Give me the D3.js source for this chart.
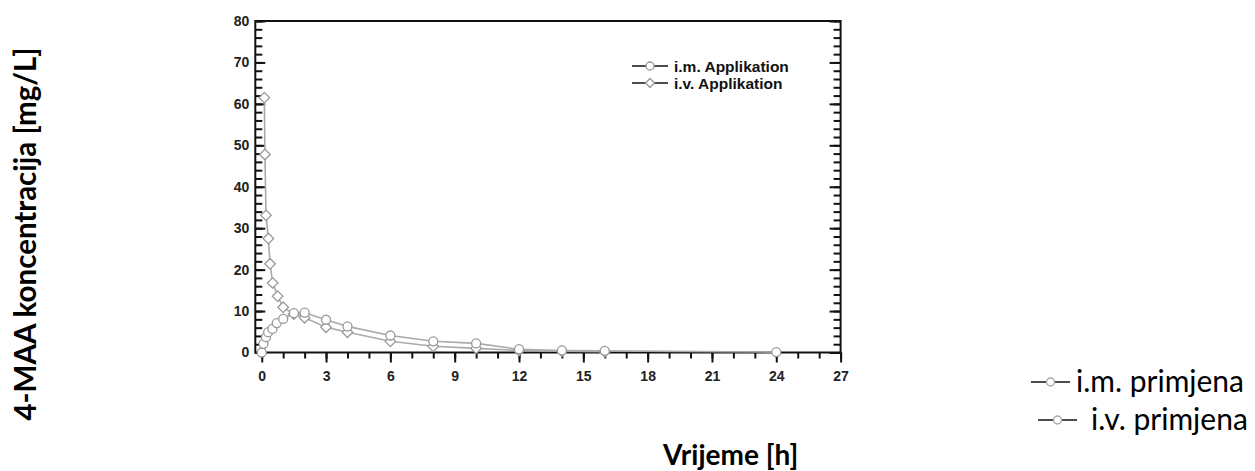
<!DOCTYPE html>
<html>
<head>
<meta charset="utf-8">
<script src="https://cdn.jsdelivr.net/npm/d3@7"></script>
<style>
  body { margin: 0; background: #fff; }
  svg { display: block; }
</style>
</head>
<body>
<svg id="chart" width="1255" height="471"></svg>
<script>
// values
var imTime = [0, 0.08, 0.2, 0.3, 0.5, 0.7, 1, 1.5, 2, 3, 4, 6, 8, 10, 12, 14, 16, 24];
var imConc = [0, 2.1, 3.7, 4.9, 5.7, 7.1, 8.1, 9.5, 9.6, 7.9, 6.3, 4.1, 2.7, 2.2, 0.8, 0.5, 0.4, 0.1];
var ivTime = [0.12, 0.15, 0.2, 0.31, 0.39, 0.51, 0.74, 1, 1.5, 2, 3, 4, 6, 8, 10, 12, 14, 16];
var ivConc = [61.5, 47.8, 33.1, 27.5, 21.4, 16.8, 13.6, 10.9, 9.3, 8.4, 6.1, 4.9, 2.7, 1.5, 1.0, 0.5, 0.3, 0.2];
var xTicks = [0, 3, 6, 9, 12, 15, 18, 21, 24, 27];
var yTicks = [0, 10, 20, 30, 40, 50, 60, 70, 80];
var innerLegend = ["i.m. Applikation", "i.v. Applikation"];
var outerLegend = ["i.m. primjena", "i.v. primjena"];

var svg = d3.select("#chart");

var x = d3.scaleLinear().domain([-0.3, 27]).range([255.3, 840.6]);
var y = d3.scaleLinear().domain([0, 80]).range([352.5, 21]);

var tickFont = "'Liberation Sans', Arial, sans-serif";
var wordFont = "Lato, 'Open Sans', sans-serif";

// minor ticks first
svg.append("g")
    .attr("transform", "translate(0," + y(0) + ")")
    .call(d3.axisBottom(x).tickValues(d3.range(0, 28, 1)).tickSize(6).tickFormat(""))
    .call(function (g) { g.select(".domain").remove(); });
svg.append("g")
    .attr("transform", "translate(" + x(-0.3) + ",0)")
    .call(d3.axisLeft(y).tickValues(d3.range(0, 81, 2)).tickSize(-7).tickFormat(""))
    .call(function (g) { g.select(".domain").remove(); });
svg.append("g")
    .attr("transform", "translate(" + x(27) + ",0)")
    .call(d3.axisLeft(y).tickValues(d3.range(0, 81, 2)).tickSize(7).tickFormat(""))
    .call(function (g) { g.select(".domain").remove(); });

// major ticks + labels
var xAxis = svg.append("g")
    .attr("transform", "translate(0," + y(0) + ")")
    .call(d3.axisBottom(x).tickValues(xTicks).tickSize(10).tickPadding(9));
var yAxis = svg.append("g")
    .attr("transform", "translate(" + x(-0.3) + ",0)")
    .call(d3.axisLeft(y).tickValues(yTicks).tickSize(-10).tickPadding(6));
svg.append("g")
    .attr("transform", "translate(" + x(27) + ",0)")
    .call(d3.axisLeft(y).tickValues(yTicks).tickSize(11).tickFormat(""))
    .call(function (g) { g.select(".domain").remove(); });

[xAxis, yAxis].forEach(function (g) {
    g.select(".domain").remove();
    g.selectAll("text")
        .attr("font-family", tickFont)
        .attr("font-size", "14px")
        .attr("font-weight", "bold")
        .attr("fill", "#222");
});
svg.selectAll(".tick line").attr("stroke", "#111").attr("stroke-width", 2);

// frame
svg.append("rect")
    .attr("x", x(-0.3)).attr("y", y(80))
    .attr("width", x(27) - x(-0.3)).attr("height", y(0) - y(80))
    .attr("fill", "none").attr("stroke", "#111").attr("stroke-width", 2);

var line = d3.line().x(function (d) { return x(d[0]); }).y(function (d) { return y(d[1]); });
var imData = d3.zip(imTime, imConc);
var ivData = d3.zip(ivTime, ivConc);

var plot = svg.append("g");
plot.append("path").datum(ivData).attr("d", line)
    .attr("fill", "none").attr("stroke", "#aaa").attr("stroke-width", 1.6);
plot.append("path").datum(imData).attr("d", line)
    .attr("fill", "none").attr("stroke", "#aaa").attr("stroke-width", 1.6);

// diamond = square turned 45 degrees
var diamond = d3.symbol().type(d3.symbolSquare).size(56);
plot.selectAll(".iv").data(ivData).enter().append("path")
    .attr("class", "iv")
    .attr("transform", function (d) { return "translate(" + x(d[0]) + "," + y(d[1]) + ") rotate(45)"; })
    .attr("d", diamond)
    .attr("fill", "#fff").attr("stroke", "#999").attr("stroke-width", 1.3);
plot.selectAll(".im").data(imData).enter().append("circle")
    .attr("class", "im")
    .attr("cx", function (d) { return x(d[0]); })
    .attr("cy", function (d) { return y(d[1]); })
    .attr("r", 4.5)
    .attr("fill", "#fff").attr("stroke", "#999").attr("stroke-width", 1.3);

// legend inside the plot
var leg = svg.append("g");
innerLegend.forEach(function (label, i) {
    var ly = 66 + i * 17;
    leg.append("line").attr("x1", 632).attr("x2", 668).attr("y1", ly).attr("y2", ly)
        .attr("stroke", "#111").attr("stroke-width", 1.5);
    if (i === 0) {
        leg.append("circle").attr("cx", 650).attr("cy", ly).attr("r", 4)
            .attr("fill", "#fff").attr("stroke", "#999").attr("stroke-width", 1.3);
    } else {
        leg.append("path").attr("transform", "translate(650," + ly + ") rotate(45)")
            .attr("d", d3.symbol().type(d3.symbolSquare).size(40))
            .attr("fill", "#fff").attr("stroke", "#999").attr("stroke-width", 1.3);
    }
    leg.append("text").attr("x", 674).attr("y", ly + 5.5)
        .attr("font-family", tickFont).attr("font-size", "15.5px").attr("font-weight", "bold")
        .attr("fill", "#111").text(label);
});

// axis titles
svg.append("text")
    .attr("transform", "translate(36,234) rotate(-90)")
    .attr("text-anchor", "middle")
    .attr("font-family", wordFont)
    .attr("font-size", "29.5px").attr("font-weight", "bold")
    .attr("fill", "#000")
    .text("4-MAA koncentracija [mg/L]");
svg.append("text")
    .attr("x", 663).attr("y", 465)
    .attr("font-family", wordFont)
    .attr("font-size", "28px").attr("font-weight", "bold")
    .attr("fill", "#000")
    .text("Vrijeme [h]");

// legend bottom right
var leg2 = svg.append("g");
var leg2Pos = [{ lx: 1031, tx: 1076, ly: 382 }, { lx: 1038, tx: 1091, ly: 420 }];
outerLegend.forEach(function (label, i) {
    var p = leg2Pos[i];
    leg2.append("line").attr("x1", p.lx).attr("x2", p.lx + 39).attr("y1", p.ly).attr("y2", p.ly)
        .attr("stroke", "#111").attr("stroke-width", 1.5);
    leg2.append("circle").attr("cx", p.lx + 19.5).attr("cy", p.ly).attr("r", 4)
        .attr("fill", "#fff").attr("stroke", "#aaa").attr("stroke-width", 1.5);
    leg2.append("text").attr("x", p.tx).attr("y", p.ly + 10)
        .attr("font-family", wordFont)
        .attr("font-size", "30px")
        .attr("fill", "#000").text(label);
});
</script>
</body>
</html>
